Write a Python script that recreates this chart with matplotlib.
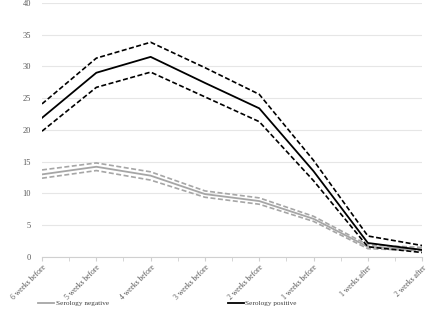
import matplotlib
matplotlib.use("Agg")
import matplotlib.pyplot as plt
import numpy as np

categories = ["6 weeks before", "5 weeks before", "4 weeks before", "3 weeks before",
              "2 weeks before", "1 weeks before", "1 weeks after", "2 weeks after"]

pos_mid = [21.9, 29.0, 31.5, 27.4, 23.4, 13.5, 2.2, 1.1]
pos_upper = [24.1, 31.3, 33.8, 29.8, 25.6, 15.2, 3.3, 1.8]
pos_lower = [19.8, 26.7, 29.1, 25.2, 21.3, 12.0, 1.6, 0.7]

neg_mid = [13.0, 14.2, 12.8, 9.9, 8.8, 6.0, 1.6, 1.2]
neg_upper = [13.7, 14.8, 13.4, 10.4, 9.3, 6.4, 1.9, 1.5]
neg_lower = [12.4, 13.6, 12.1, 9.4, 8.3, 5.6, 1.3, 1.0]

plt.rcParams["font.family"] = ["Liberation Serif", "DejaVu Serif"]

fig = plt.figure(figsize=(4.4, 3.2), dpi=100)
ax = fig.add_axes([0.0955, 0.197, 0.864, 0.794])
x = np.arange(len(categories))

grey = "#a6a6a6"
ax.plot(x, neg_upper, color=grey, lw=1.2, ls=(0, (3, 1.5)))
ax.plot(x, neg_lower, color=grey, lw=1.2, ls=(0, (3, 1.5)))
ax.plot(x, neg_mid, color=grey, lw=1.3, label="Serology negative")
ax.plot(x, pos_upper, color="black", lw=1.2, ls=(0, (3, 1.5)))
ax.plot(x, pos_lower, color="black", lw=1.2, ls=(0, (3, 1.5)))
ax.plot(x, pos_mid, color="black", lw=1.3, label="Serology positive")

ax.set_xlim(0, len(categories) - 1)
ax.set_ylim(0, 40)
ax.set_yticks(range(0, 41, 5))
ax.yaxis.grid(True, color="#e6e6e6", lw=0.8)
ax.set_axisbelow(True)
for s in ["top", "right", "left"]:
    ax.spines[s].set_visible(False)
ax.spines["bottom"].set_color("#d0d0d0")
ax.tick_params(axis="y", length=0, labelsize=6, colors="#595959", pad=8)
ax.set_xticks(x)
ax.set_xticks(np.arange(0.5, len(categories) - 1, 1), minor=True)
ax.set_xticklabels(categories, rotation=45, ha="right", rotation_mode="anchor",
                   fontsize=5.5, color="#595959")
ax.tick_params(axis="x", which="both", length=3, color="#d0d0d0", pad=2)

fig.legend(loc="center left", bbox_to_anchor=(0.072, 0.053), ncol=2, frameon=False,
           fontsize=5.2, handlelength=2.2, columnspacing=16.5, handletextpad=0.2,
           labelcolor="#404040")

fig.savefig("out.png", dpi=100)
